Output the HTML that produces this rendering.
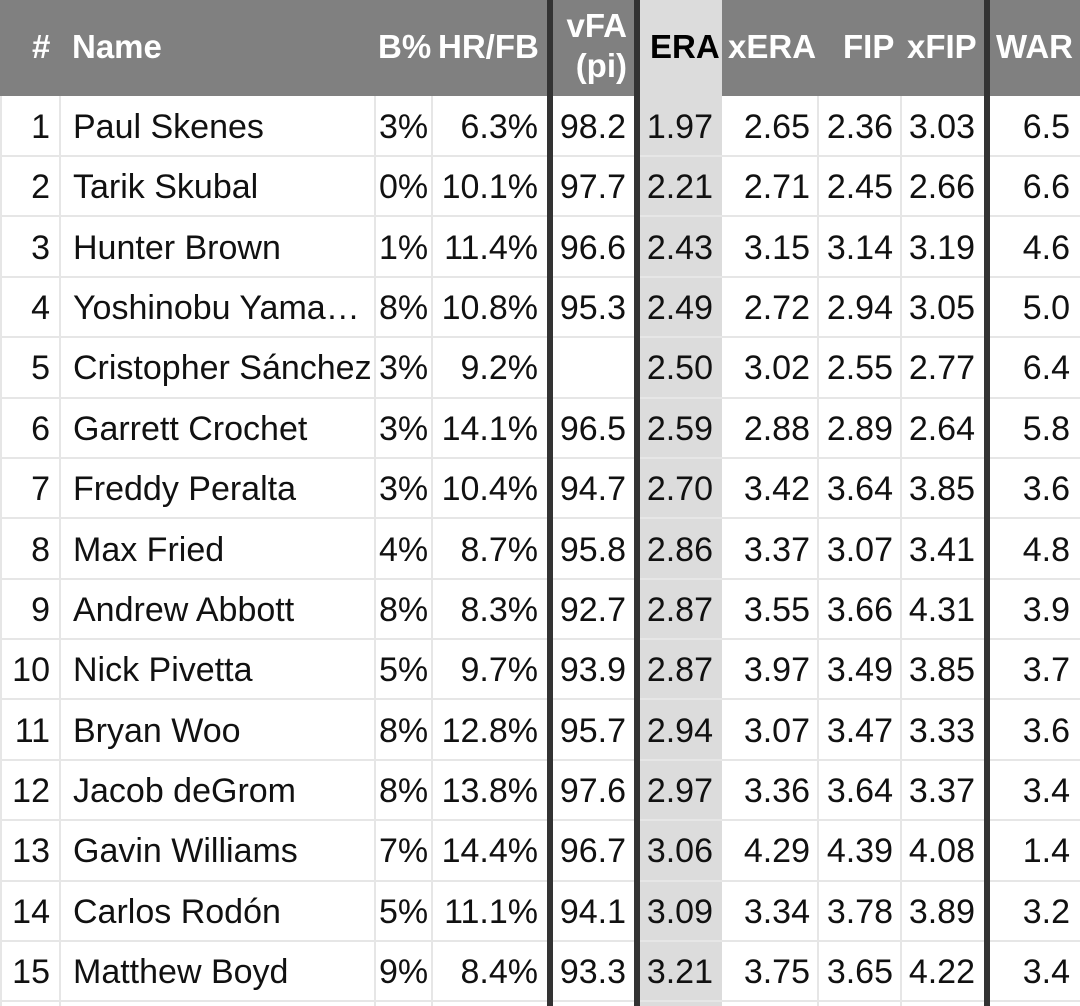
<!DOCTYPE html>
<html><head><meta charset="utf-8"><style>
body{margin:0;width:1080px;height:1006px;overflow:hidden;background:#fff;font-family:"Liberation Sans",Arial,sans-serif;position:relative}
.hdr{position:absolute;left:0;top:0;width:1080px;height:96px;background:#808080}
.erah{position:absolute;left:640px;top:0;width:82px;height:96px;background:#dcdcdc}
.erab{position:absolute;left:640px;top:96px;width:82px;height:910px;background:#dcdcdc}
.v{position:absolute;top:96px;height:910px;width:2px;background:#e6e6e6}
.t{position:absolute;top:0;height:1006px;width:6px;background:#333}
.h{position:absolute;left:0;width:1080px;height:2px;background:#e6e6e6}
.c{position:absolute;font-size:34px;color:#111;white-space:nowrap;line-height:40px}
.r{text-align:right}
.hc{position:absolute;font-size:33px;font-weight:bold;color:#fff;white-space:nowrap;line-height:36px}
</style></head><body>
<div class="hdr"></div><div class="erah"></div><div class="erab"></div>
<div class="v" style="left:0"></div><div class="v" style="left:59px"></div><div class="v" style="left:374px"></div><div class="v" style="left:431px"></div><div class="v" style="left:817px"></div><div class="v" style="left:900px"></div>
<div class="h" style="top:155px"></div><div class="h" style="top:215px"></div><div class="h" style="top:276px"></div><div class="h" style="top:336px"></div><div class="h" style="top:397px"></div><div class="h" style="top:457px"></div><div class="h" style="top:517px"></div><div class="h" style="top:578px"></div><div class="h" style="top:638px"></div><div class="h" style="top:698px"></div><div class="h" style="top:759px"></div><div class="h" style="top:819px"></div><div class="h" style="top:880px"></div><div class="h" style="top:940px"></div><div class="h" style="top:1000px"></div>
<div class="t" style="left:547px"></div><div class="t" style="left:634px"></div><div class="t" style="left:984px"></div>

<div class="hc" style="left:32px;top:29px">#</div>
<div class="hc" style="left:72px;top:29px">Name</div>
<div class="hc" style="left:378px;top:29px">B%</div>
<div class="hc" style="left:438px;top:29px">HR/FB</div>
<div class="hc r" style="left:553px;width:74px;top:8px">vFA</div>
<div class="hc r" style="left:553px;width:74px;top:48px">(pi)</div>
<div class="hc" style="left:650px;top:29px;color:#000">ERA</div>
<div class="hc" style="left:728px;top:29px">xERA</div>
<div class="hc" style="left:843px;top:29px">FIP</div>
<div class="hc" style="left:907px;top:29px">xFIP</div>
<div class="hc" style="left:996px;top:29px">WAR</div>

<div style="position:absolute;left:0;top:107px">
<div class="c r" style="left:0;width:50px;top:0">1</div><div class="c" style="left:73px;top:0">Paul Skenes</div><div class="c" style="left:379px;top:0">3%</div><div class="c r" style="left:434px;width:104px;top:0">6.3%</div><div class="c r" style="left:553px;width:73px;top:0">98.2</div><div class="c r" style="left:640px;width:73px;top:0">1.97</div><div class="c r" style="left:724px;width:86px;top:0">2.65</div><div class="c r" style="left:820px;width:73px;top:0">2.36</div><div class="c r" style="left:903px;width:72px;top:0">3.03</div><div class="c r" style="left:990px;width:80px;top:0">6.5</div>
</div>
<div style="position:absolute;left:0;top:167.4px">
<div class="c r" style="left:0;width:50px">2</div><div class="c" style="left:73px">Tarik Skubal</div><div class="c" style="left:379px">0%</div><div class="c r" style="left:434px;width:104px">10.1%</div><div class="c r" style="left:553px;width:73px">97.7</div><div class="c r" style="left:640px;width:73px">2.21</div><div class="c r" style="left:724px;width:86px">2.71</div><div class="c r" style="left:820px;width:73px">2.45</div><div class="c r" style="left:903px;width:72px">2.66</div><div class="c r" style="left:990px;width:80px">6.6</div>
</div>
<div style="position:absolute;left:0;top:227.7px">
<div class="c r" style="left:0;width:50px">3</div><div class="c" style="left:73px">Hunter Brown</div><div class="c" style="left:379px">1%</div><div class="c r" style="left:434px;width:104px">11.4%</div><div class="c r" style="left:553px;width:73px">96.6</div><div class="c r" style="left:640px;width:73px">2.43</div><div class="c r" style="left:724px;width:86px">3.15</div><div class="c r" style="left:820px;width:73px">3.14</div><div class="c r" style="left:903px;width:72px">3.19</div><div class="c r" style="left:990px;width:80px">4.6</div>
</div>
<div style="position:absolute;left:0;top:288.1px">
<div class="c r" style="left:0;width:50px">4</div><div class="c" style="left:73px">Yoshinobu Yama…</div><div class="c" style="left:379px">8%</div><div class="c r" style="left:434px;width:104px">10.8%</div><div class="c r" style="left:553px;width:73px">95.3</div><div class="c r" style="left:640px;width:73px">2.49</div><div class="c r" style="left:724px;width:86px">2.72</div><div class="c r" style="left:820px;width:73px">2.94</div><div class="c r" style="left:903px;width:72px">3.05</div><div class="c r" style="left:990px;width:80px">5.0</div>
</div>
<div style="position:absolute;left:0;top:348.4px">
<div class="c r" style="left:0;width:50px">5</div><div class="c" style="left:73px">Cristopher Sánchez</div><div class="c" style="left:379px">3%</div><div class="c r" style="left:434px;width:104px">9.2%</div><div class="c r" style="left:640px;width:73px">2.50</div><div class="c r" style="left:724px;width:86px">3.02</div><div class="c r" style="left:820px;width:73px">2.55</div><div class="c r" style="left:903px;width:72px">2.77</div><div class="c r" style="left:990px;width:80px">6.4</div>
</div>
<div style="position:absolute;left:0;top:408.8px">
<div class="c r" style="left:0;width:50px">6</div><div class="c" style="left:73px">Garrett Crochet</div><div class="c" style="left:379px">3%</div><div class="c r" style="left:434px;width:104px">14.1%</div><div class="c r" style="left:553px;width:73px">96.5</div><div class="c r" style="left:640px;width:73px">2.59</div><div class="c r" style="left:724px;width:86px">2.88</div><div class="c r" style="left:820px;width:73px">2.89</div><div class="c r" style="left:903px;width:72px">2.64</div><div class="c r" style="left:990px;width:80px">5.8</div>
</div>
<div style="position:absolute;left:0;top:469.2px">
<div class="c r" style="left:0;width:50px">7</div><div class="c" style="left:73px">Freddy Peralta</div><div class="c" style="left:379px">3%</div><div class="c r" style="left:434px;width:104px">10.4%</div><div class="c r" style="left:553px;width:73px">94.7</div><div class="c r" style="left:640px;width:73px">2.70</div><div class="c r" style="left:724px;width:86px">3.42</div><div class="c r" style="left:820px;width:73px">3.64</div><div class="c r" style="left:903px;width:72px">3.85</div><div class="c r" style="left:990px;width:80px">3.6</div>
</div>
<div style="position:absolute;left:0;top:529.5px">
<div class="c r" style="left:0;width:50px">8</div><div class="c" style="left:73px">Max Fried</div><div class="c" style="left:379px">4%</div><div class="c r" style="left:434px;width:104px">8.7%</div><div class="c r" style="left:553px;width:73px">95.8</div><div class="c r" style="left:640px;width:73px">2.86</div><div class="c r" style="left:724px;width:86px">3.37</div><div class="c r" style="left:820px;width:73px">3.07</div><div class="c r" style="left:903px;width:72px">3.41</div><div class="c r" style="left:990px;width:80px">4.8</div>
</div>
<div style="position:absolute;left:0;top:589.9px">
<div class="c r" style="left:0;width:50px">9</div><div class="c" style="left:73px">Andrew Abbott</div><div class="c" style="left:379px">8%</div><div class="c r" style="left:434px;width:104px">8.3%</div><div class="c r" style="left:553px;width:73px">92.7</div><div class="c r" style="left:640px;width:73px">2.87</div><div class="c r" style="left:724px;width:86px">3.55</div><div class="c r" style="left:820px;width:73px">3.66</div><div class="c r" style="left:903px;width:72px">4.31</div><div class="c r" style="left:990px;width:80px">3.9</div>
</div>
<div style="position:absolute;left:0;top:650.2px">
<div class="c r" style="left:0;width:50px">10</div><div class="c" style="left:73px">Nick Pivetta</div><div class="c" style="left:379px">5%</div><div class="c r" style="left:434px;width:104px">9.7%</div><div class="c r" style="left:553px;width:73px">93.9</div><div class="c r" style="left:640px;width:73px">2.87</div><div class="c r" style="left:724px;width:86px">3.97</div><div class="c r" style="left:820px;width:73px">3.49</div><div class="c r" style="left:903px;width:72px">3.85</div><div class="c r" style="left:990px;width:80px">3.7</div>
</div>
<div style="position:absolute;left:0;top:710.6px">
<div class="c r" style="left:0;width:50px">11</div><div class="c" style="left:73px">Bryan Woo</div><div class="c" style="left:379px">8%</div><div class="c r" style="left:434px;width:104px">12.8%</div><div class="c r" style="left:553px;width:73px">95.7</div><div class="c r" style="left:640px;width:73px">2.94</div><div class="c r" style="left:724px;width:86px">3.07</div><div class="c r" style="left:820px;width:73px">3.47</div><div class="c r" style="left:903px;width:72px">3.33</div><div class="c r" style="left:990px;width:80px">3.6</div>
</div>
<div style="position:absolute;left:0;top:771px">
<div class="c r" style="left:0;width:50px">12</div><div class="c" style="left:73px">Jacob deGrom</div><div class="c" style="left:379px">8%</div><div class="c r" style="left:434px;width:104px">13.8%</div><div class="c r" style="left:553px;width:73px">97.6</div><div class="c r" style="left:640px;width:73px">2.97</div><div class="c r" style="left:724px;width:86px">3.36</div><div class="c r" style="left:820px;width:73px">3.64</div><div class="c r" style="left:903px;width:72px">3.37</div><div class="c r" style="left:990px;width:80px">3.4</div>
</div>
<div style="position:absolute;left:0;top:831.3px">
<div class="c r" style="left:0;width:50px">13</div><div class="c" style="left:73px">Gavin Williams</div><div class="c" style="left:379px">7%</div><div class="c r" style="left:434px;width:104px">14.4%</div><div class="c r" style="left:553px;width:73px">96.7</div><div class="c r" style="left:640px;width:73px">3.06</div><div class="c r" style="left:724px;width:86px">4.29</div><div class="c r" style="left:820px;width:73px">4.39</div><div class="c r" style="left:903px;width:72px">4.08</div><div class="c r" style="left:990px;width:80px">1.4</div>
</div>
<div style="position:absolute;left:0;top:891.7px">
<div class="c r" style="left:0;width:50px">14</div><div class="c" style="left:73px">Carlos Rodón</div><div class="c" style="left:379px">5%</div><div class="c r" style="left:434px;width:104px">11.1%</div><div class="c r" style="left:553px;width:73px">94.1</div><div class="c r" style="left:640px;width:73px">3.09</div><div class="c r" style="left:724px;width:86px">3.34</div><div class="c r" style="left:820px;width:73px">3.78</div><div class="c r" style="left:903px;width:72px">3.89</div><div class="c r" style="left:990px;width:80px">3.2</div>
</div>
<div style="position:absolute;left:0;top:952px">
<div class="c r" style="left:0;width:50px">15</div><div class="c" style="left:73px">Matthew Boyd</div><div class="c" style="left:379px">9%</div><div class="c r" style="left:434px;width:104px">8.4%</div><div class="c r" style="left:553px;width:73px">93.3</div><div class="c r" style="left:640px;width:73px">3.21</div><div class="c r" style="left:724px;width:86px">3.75</div><div class="c r" style="left:820px;width:73px">3.65</div><div class="c r" style="left:903px;width:72px">4.22</div><div class="c r" style="left:990px;width:80px">3.4</div>
</div>
</body></html>
